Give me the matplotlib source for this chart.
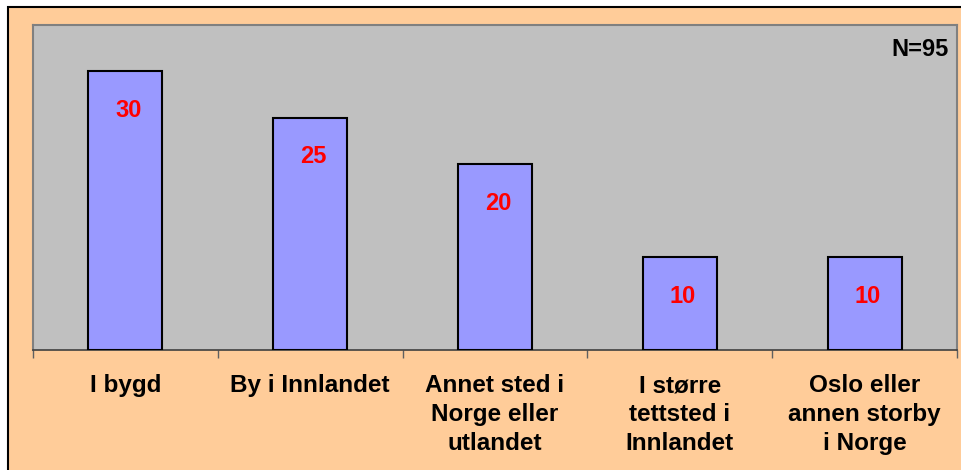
import numpy as np
import matplotlib.pyplot as plt
from matplotlib.patches import Rectangle

categories = ["I bygd", "By i Innlandet", "Annet sted i\nNorge eller\nutlandet",
              "I større\ntettsted i\nInnlandet", "Oslo eller\nannen storby\ni Norge"]
values = [30, 25, 20, 10, 10]
n_label = "N=95"

plt.rcParams['font.family'] = ['Liberation Sans', 'DejaVu Sans']

fig = plt.figure(figsize=(9.62, 4.70), dpi=100)
fig.patch.set_facecolor('white')

# peach frame with black border (runs off the right/bottom edges)
W, H = 962, 470
frame = Rectangle((8 / W, -0.05), 1.1, 1 - 7 / H + 0.05, transform=fig.transFigure,
                  facecolor='#FFCC99', edgecolor='black', linewidth=1.5, zorder=-10)
fig.patches.append(frame)

ax = fig.add_axes([33 / W, 1 - 350 / H, (957 - 33) / W, (350 - 25) / H])
ax.set_facecolor('#C0C0C0')
x = np.arange(len(values))
bars = ax.bar(x, values, width=0.40, color='#9999FF', edgecolor='black', linewidth=1.5, zorder=3)

for xi, v in zip(x, values):
    ax.annotate(str(v), (xi, v), xytext=(3, -39), textcoords='offset pixels',
                ha='center', va='center', color='#FF0000', fontweight='bold', fontsize=17, zorder=4)

ax.text(0.991, 0.925, n_label, transform=ax.transAxes, ha='right', va='center',
        fontweight='bold', fontsize=17)

ax.set_xlim(-0.5, len(values) - 0.5)
ax.set_ylim(0, 35)
ax.set_yticks([])
ax.set_xticks(x)
ax.set_xticklabels(categories, fontweight='bold', fontsize=17.5, linespacing=1.32)
ax.set_xticks(np.arange(len(values) + 1) - 0.5, minor=True)
ax.tick_params(axis='x', which='major', length=0, pad=17.5)
ax.tick_params(axis='x', which='minor', length=6, color='#606060', width=1)

for side in ['top', 'right', 'left']:
    ax.spines[side].set_color('#808080')
    ax.spines[side].set_linewidth(1.5)
ax.spines['bottom'].set_color('#404040')
ax.spines['bottom'].set_linewidth(1.2)

fig.savefig('out.png', dpi=100, facecolor=fig.get_facecolor())
